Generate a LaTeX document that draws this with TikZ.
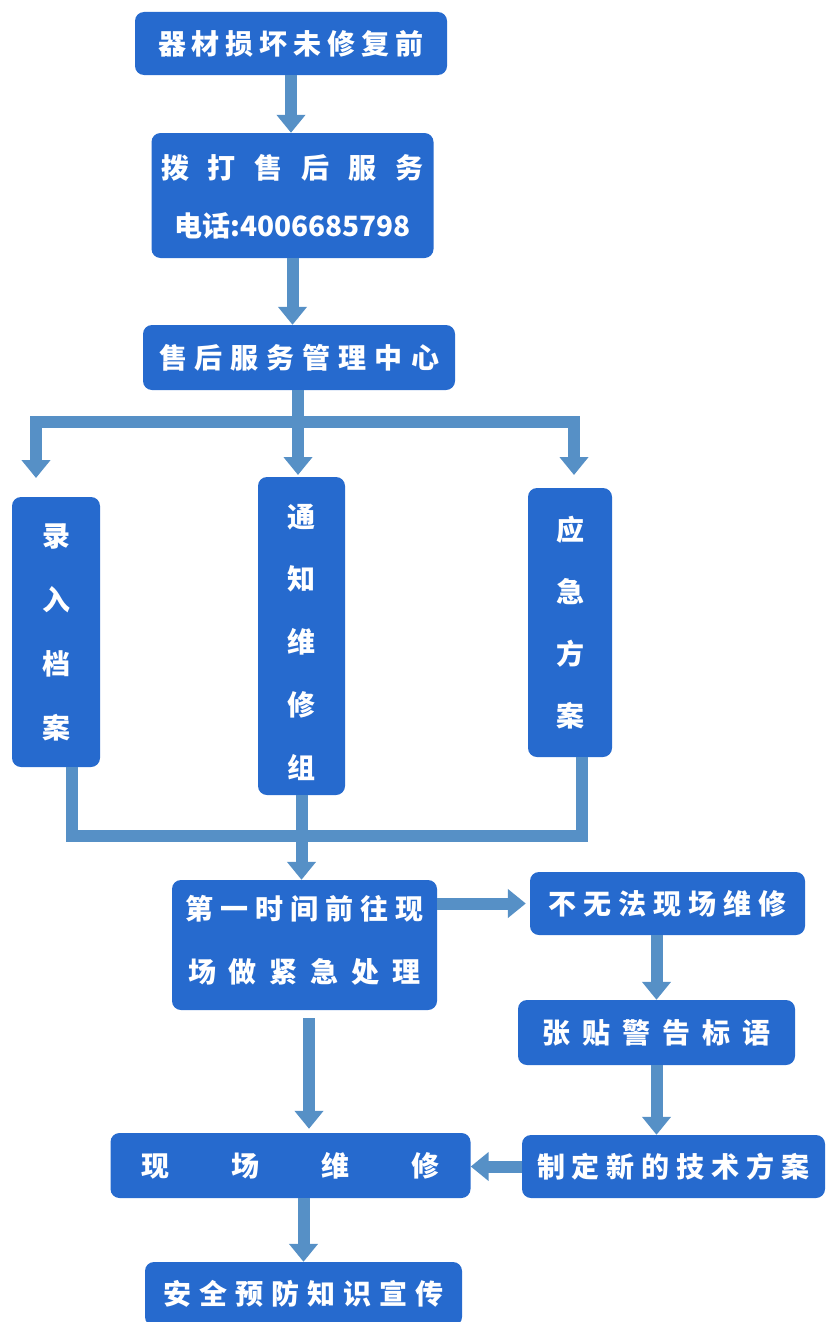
\documentclass[tikz,border=0pt]{standalone}
\usepackage{fontspec}
\newfontfamily\cjk{Noto Sans CJK SC}
\usetikzlibrary{arrows.meta}
\definecolor{boxblue}{RGB}{38,106,206}
\definecolor{linkblue}{RGB}{86,144,198}
\makeatletter
\def\sp@loop#1{\ifx#1\relax\else\makebox[\sp@pitch][c]{#1}\expandafter\sp@loop\fi}
\newcommand\spread[2]{\def\sp@pitch{#1}\sp@loop#2\relax}
\makeatother
\tikzset{
  box/.style={fill=boxblue, rounded corners=9pt, text=white, inner sep=0pt, align=center,
    font=\cjk\bfseries\fontsize{28}{34}\selectfont},
  link/.style={draw=linkblue, line width=12pt},
  arr/.style={link, -{Triangle[width=28pt,length=18pt]}}
}
\begin{document}
\begin{tikzpicture}[x=1pt,y=-1pt]
\useasboundingbox (0,0) rectangle (825,1322);
% boxes
\node[box, minimum width=312pt, minimum height=63pt] (b1) at (291,43.5) {\spread{34pt}{器材损坏未修复前}};
\node[box, minimum width=275pt, minimum height=125pt] (b2) at (292.5,195.5)
  {\raisebox{-11pt}[0pt][0pt]{\begin{tabular}{@{}c@{}}\spread{47pt}{拨打售后服务}\\[24pt]电话:4006685798\end{tabular}}};
\node[box, minimum width=312pt, minimum height=65pt] (b3) at (299,357.5) {\spread{36pt}{售后服务管理中心}};
\node[box, minimum width=88pt, minimum height=270pt] (bl) at (56,632) {录\\[30pt]入\\[30pt]档\\[30pt]案};
\node[box, minimum width=87pt, minimum height=318pt] (bc) at (301.5,636) {\raisebox{-16pt}[0pt][0pt]{\begin{tabular}{@{}c@{}}通\\[28.5pt]知\\[28.5pt]维\\[28.5pt]修\\[28.5pt]组\end{tabular}}};
\node[box, minimum width=84pt, minimum height=269pt] (br) at (570,622.5) {应\\[28pt]急\\[28pt]方\\[28pt]案};
\node[box, minimum width=265pt, minimum height=130pt] (b4) at (304.5,945)
  {\raisebox{-5pt}[0pt][0pt]{\begin{tabular}{@{}c@{}}\spread{35pt}{第一时间前往现}\\[29pt]\spread{41pt}{场做紧急处理}\end{tabular}}};
\node[box, minimum width=275pt, minimum height=63pt] (b5) at (667.5,903.5) {\spread{35pt}{不无法现场维修}};
\node[box, minimum width=277pt, minimum height=65pt] (b6) at (656.5,1032.5) {\spread{40pt}{张贴警告标语}};
\node[box, minimum width=303pt, minimum height=63pt] (b7) at (673.5,1166.5) {\spread{35pt}{制定新的技术方案}};
\node[box, minimum width=335pt, minimum height=65pt] (b8) at (290.5,1165.5) {\spread{90pt}{现场维修}};
\node[box, minimum width=317pt, minimum height=64pt] (b9) at (303.5,1294) {\spread{36pt}{安全预防知识宣传}};
% coordinates
\coordinate (jt) at (298,422);
\coordinate (tl) at (36,422);
\coordinate (tr) at (574,422);
\coordinate (al) at (36,478);
\coordinate (ar) at (574,475);
\coordinate (ac) at (298,475);
\coordinate (xl) at (72,836);
\coordinate (xr) at (582,836);
% connectors
\draw[arr] (b1.south) -- (b1.south |- b2.north);
\draw[arr] (b2.south) -- (b2.south |- b3.north);
\draw[link] (b3.south -| jt) -- (jt);
\draw[arr] (jt) -- (tl) -- (al);
\draw[arr] (jt) -- (tr) -- (ar);
\draw[arr] (jt) -- (ac);
\draw[link] (bl.south -| xl) -- (xl) -- (xr) -- (br.south -| xr);
\draw[arr] (bc.south) -- (bc.south |- b4.north);
\draw[arr] (b4.east |- b5.west) -- ([xshift=-4pt]b5.west);
\draw[arr] (b5.south -| b6.north) -- (b6.north);
\draw[arr] (b6.south) -- (b6.south |- b7.north);
\draw[arr] (b7.west) -- (b8.east |- b7.west);
\draw[arr, shorten <=8pt, shorten >=4pt] (b4.south -| 309,0) -- (b8.north -| 309,0);
\draw[arr] (b8.south -| b9.north) -- (b9.north);
\end{tikzpicture}
\end{document}
